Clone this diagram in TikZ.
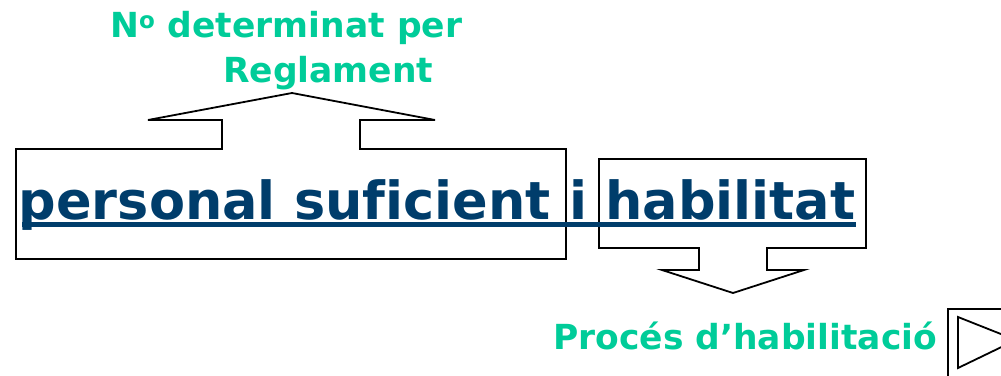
\documentclass[tikz,border=0pt]{standalone}
\usepackage{fontspec}
\newfontfamily\dv{DejaVu Sans}[Ligatures={NoCommon}]
\definecolor{tealgreen}{RGB}{0,204,153}
\definecolor{navyblue}{RGB}{0,61,107}
\tikzset{
  callout/.style={draw=black, line width=1.8pt, line join=miter},
  greentext/.style={anchor=base west, inner sep=0pt, text=tealgreen, font=\dv\bfseries\fontsize{34.5}{40}\selectfont},
  maintext/.style={anchor=base west, inner sep=0pt, text=navyblue, font=\dv\bfseries\fontsize{52.5}{60}\selectfont},
}
\begin{document}
\begin{tikzpicture}[x=1pt,y=-1pt]
\useasboundingbox (0,0) rectangle (1001,375);
\clip (0,0) rectangle (1001,375);
% left callout with up arrow
\draw[callout] (16,149) -- (222,149) -- (222,120) -- (148,120) -- (292,93) -- (435,120) -- (360,120) -- (360,149) -- (566,149) -- (566,259) -- (16,259) -- cycle;
% right callout with down arrow
\draw[callout] (599,159) -- (866,159) -- (866,248) -- (767,248) -- (767,270) -- (804,270) -- (733,293) -- (662,270) -- (699,270) -- (699,248) -- (599,248) -- cycle;
% texts
\node[greentext] (t1) at (110,37) {N\raisebox{9pt}{\fontsize{23}{23}\selectfont o}\hspace{1pt} determinat per};
\node[greentext] (t2) at (223,82) {Reglament};
\node[maintext] (main) at (18.5,219) {personal suficient i habilitat};
\draw[navyblue, line width=5pt] (22,224.5) -- (856,224.5);
\node[greentext] (t3) at (553,349) {Procés d’habilitació};
% play button
\draw[callout] (948,309) rectangle (1040,390);
\draw[callout] (958,317) -- (958,368) -- (1016,340) -- cycle;
\end{tikzpicture}
\end{document}
